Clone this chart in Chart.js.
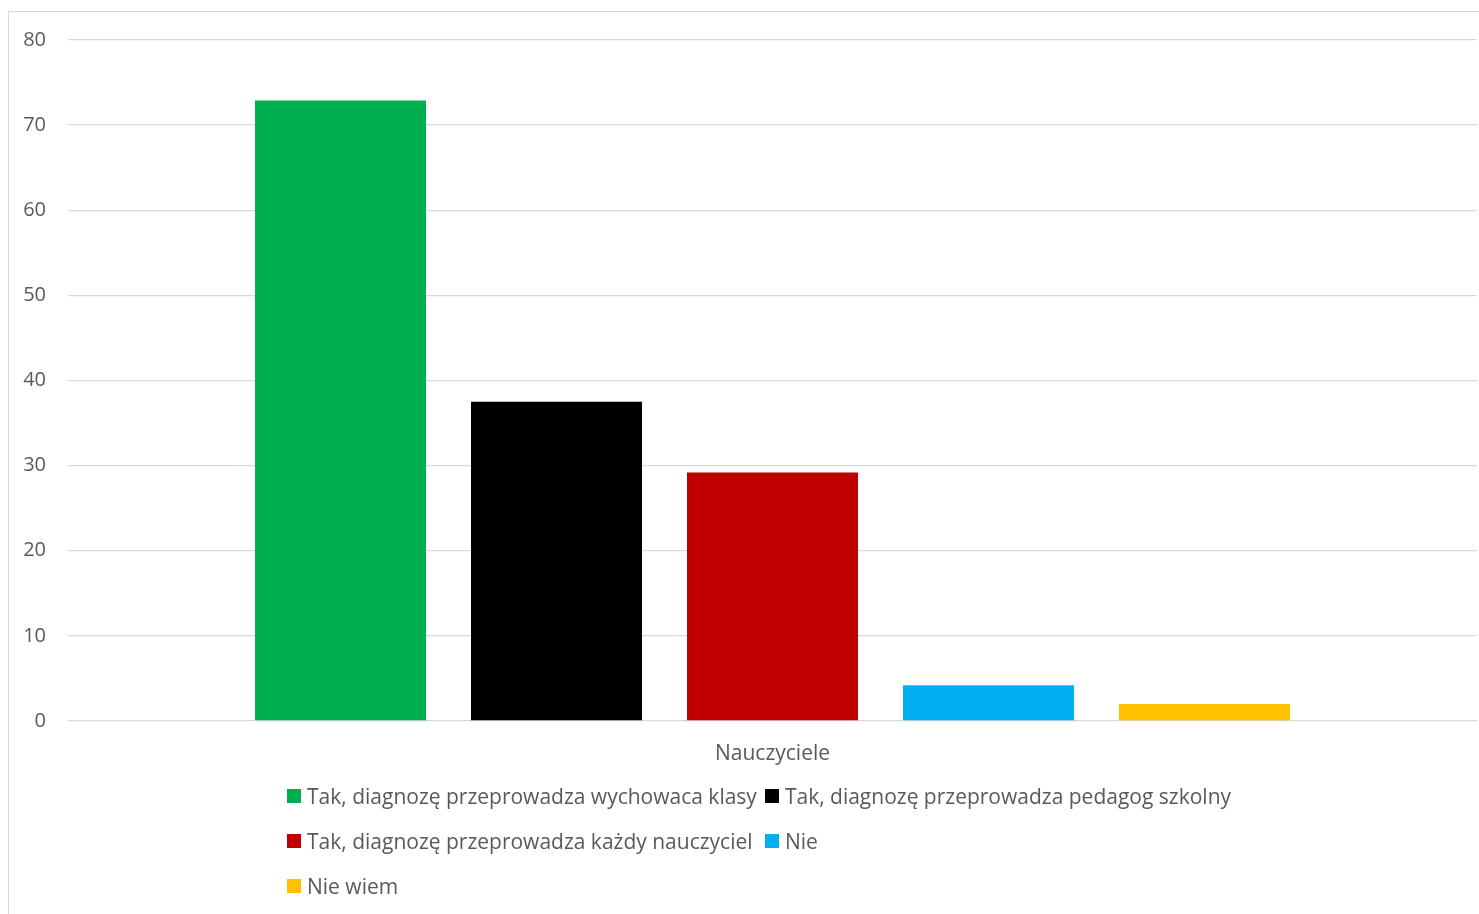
<!DOCTYPE html>
<html>
<head>
<meta charset="utf-8">
<script src="https://cdn.jsdelivr.net/npm/chart.js@4"></script>
<style>
  html, body { margin: 0; padding: 0; background: #ffffff; overflow: hidden; }
  #frame {
    position: absolute; left: 8px; top: 11px; width: 1500px; height: 950px;
    border: 1px solid #d9d9d9; box-sizing: border-box;
  }
  #wrap { position: absolute; left: 0; top: 0; width: 1479px; height: 914px; }
  #legend {
    position: absolute; left: 287px; top: 773px;
    display: grid; grid-template-columns: auto auto; column-gap: 8px; row-gap: 0;
    font-family: "Open Sans", sans-serif; font-size: 21px; color: #595959;
  }
  .item { display: flex; align-items: center; height: 45px; white-space: nowrap; }
  .box { width: 14px; height: 14px; margin-right: 6px; flex: none; }
</style>
</head>
<body>
<div id="frame"></div>
<div id="wrap"><canvas id="barChart" width="1479" height="914"></canvas></div>
<div id="legend"></div>
<script>
// ===== data =====
const categories = ["Nauczyciele"];
const seriesLabels = [
  "Tak, diagnozę przeprowadza wychowaca klasy",
  "Tak, diagnozę przeprowadza pedagog szkolny",
  "Tak, diagnozę przeprowadza każdy nauczyciel",
  "Nie",
  "Nie wiem"
];
const seriesValues = [72.9, 37.5, 29.2, 4.2, 2.0];
const seriesColors = ["#00b050", "#000000", "#c00000", "#00b0f0", "#ffc000"];
const yTicks = [0, 10, 20, 30, 40, 50, 60, 70, 80];

// html legend built from the chart's datasets
const htmlLegend = {
  id: "htmlLegend",
  afterUpdate(chart) {
    const box = document.getElementById("legend");
    box.innerHTML = "";
    chart.data.datasets.forEach(ds => {
      const item = document.createElement("div");
      item.className = "item";
      const sw = document.createElement("span");
      sw.className = "box";
      sw.style.background = ds.backgroundColor;
      const txt = document.createElement("span");
      txt.textContent = ds.label;
      item.appendChild(sw);
      item.appendChild(txt);
      box.appendChild(item);
    });
  }
};

const ctx = document.getElementById("barChart").getContext("2d");

new Chart(ctx, {
  type: "bar",
  data: {
    labels: categories,
    datasets: seriesLabels.map((label, i) => ({
      label: label,
      data: [seriesValues[i]],
      backgroundColor: seriesColors[i],
      borderWidth: 0,
      categoryPercentage: 0.7665,
      barPercentage: 0.7917
    }))
  },
  options: {
    responsive: false,
    animation: false,
    layout: { padding: { left: 0, top: 40, right: 2, bottom: 0 } },
    plugins: {
      legend: { display: false },
      tooltip: { enabled: false }
    },
    scales: {
      x: {
        grid: { display: false },
        border: { display: false },
        ticks: {
          color: "#595959",
          padding: 12,
          font: { family: "Open Sans", size: 21 }
        },
        afterFit(scale) { scale.height = 193; }
      },
      y: {
        min: 0,
        max: 80,
        afterBuildTicks(scale) { scale.ticks = yTicks.map(v => ({ value: v })); },
        grid: { color: "#d9d9d9", lineWidth: 1.3, drawTicks: false },
        border: { display: false },
        ticks: {
          color: "#595959",
          padding: 22,
          font: { family: "Open Sans", size: 20 }
        },
        afterFit(scale) { scale.width = 68; }
      }
    }
  },
  plugins: [htmlLegend]
});
</script>
</body>
</html>
